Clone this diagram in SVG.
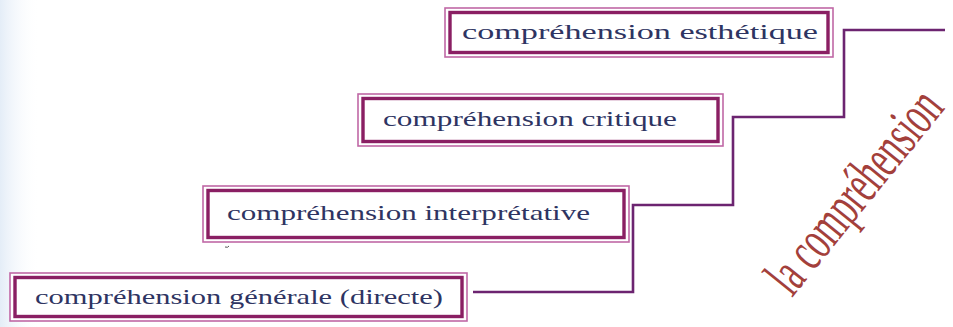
<svg xmlns="http://www.w3.org/2000/svg" width="953" height="327" viewBox="0 0 953 327">
<defs>
<linearGradient id="edge" x1="0" y1="0" x2="1" y2="0">
<stop offset="0" stop-color="#e4edf7"/>
<stop offset="1" stop-color="#ffffff" stop-opacity="0"/>
</linearGradient>
</defs>
<style>
.outer{fill:#ffffff;stroke:#c068a6;stroke-width:1.6}
.inner{fill:#ffffff;stroke:#8a1f63;stroke-width:3.4}
.lbl{font-family:"Liberation Serif","Times New Roman",serif;font-size:22px;fill:#2e3462}
.conn{fill:none;stroke:#6c2470;stroke-width:2.6;stroke-linejoin:miter}
.title{font-family:"Liberation Serif","Times New Roman",serif;font-size:58px;fill:#a3403b}
</style>
<rect width="953" height="327" fill="#ffffff"/>
<rect width="40" height="327" fill="url(#edge)"/>
<g id="connectors">
<path class="conn" d="M473,292 H633 V205 H733 V117 H844 V30 H945"/>
</g>
<g id="node-generale">
<rect class="outer" x="10" y="273" width="457" height="48"/>
<rect class="inner" x="15" y="277.5" width="447" height="39"/>
<text class="lbl" x="35" y="304" textLength="408" lengthAdjust="spacingAndGlyphs">compréhension générale (directe)</text>
</g>
<g id="node-interpretative">
<rect class="outer" x="203" y="186" width="426" height="56"/>
<rect class="inner" x="208" y="190.5" width="416" height="47"/>
<text class="lbl" x="227" y="220" textLength="363" lengthAdjust="spacingAndGlyphs">compréhension interprétative</text>
<path d="M225,247 q3,1 4,-1" fill="none" stroke="#555" stroke-width="1"/>
</g>
<g id="node-critique">
<rect class="outer" x="358" y="94" width="365" height="52"/>
<rect class="inner" x="363" y="98.5" width="355" height="43"/>
<text class="lbl" x="383" y="126" textLength="294" lengthAdjust="spacingAndGlyphs">compréhension critique</text>
</g>
<g id="node-esthetique">
<rect class="outer" x="445" y="8" width="388" height="49"/>
<rect class="inner" x="450" y="12.5" width="378" height="40"/>
<text class="lbl" x="462" y="39" textLength="356" lengthAdjust="spacingAndGlyphs">compréhension esthétique</text>
</g>
<g id="title">
<text class="title" transform="translate(792,298) rotate(-51)" textLength="244" lengthAdjust="spacingAndGlyphs">la compréhension</text>
</g>
</svg>
